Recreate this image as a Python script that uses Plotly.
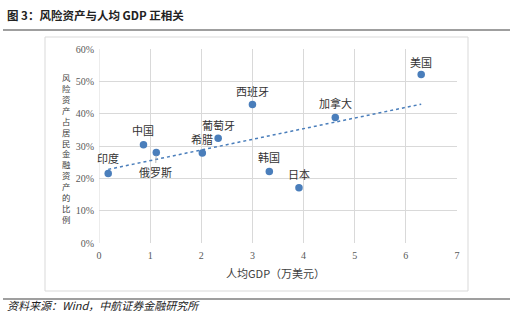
import numpy as np
import plotly.graph_objects as go

# Data: GDP per capita (10k USD) vs. share of risk assets in household financial assets
countries = ["印度", "中国", "俄罗斯", "希腊", "葡萄牙", "西班牙", "韩国", "日本", "加拿大", "美国"]
gdp_per_capita = [0.18, 0.87, 1.12, 2.02, 2.33, 3.00, 3.33, 3.91, 4.62, 6.30]
risk_asset_share = [0.215, 0.304, 0.280, 0.278, 0.324, 0.428, 0.221, 0.171, 0.388, 0.521]

x_ticks = [0, 1, 2, 3, 4, 5, 6, 7]
y_ticks = [0, 0.1, 0.2, 0.3, 0.4, 0.5, 0.6]
y_tick_text = ["0%", "10%", "20%", "30%", "40%", "50%", "60%"]

title_text = "图 3：风险资产与人均 GDP 正相关"
x_title = "人均GDP（万美元）"
y_title = "风险资产占居民金融资产的比例"
source_text = "资料来源：Wind，中航证券金融研究所"

# Label placement (pixel offsets from each point)
label_offsets = {
    "印度": (0, 15), "中国": (0, 15), "俄罗斯": (0, -20), "希腊": (0, 14),
    "葡萄牙": (0, 13), "西班牙": (0, 14), "韩国": (0, 15), "日本": (0, 14),
    "加拿大": (0, 15), "美国": (0, 13),
}

# Plot area in pixels
W_FIG, H_FIG = 510, 326
L, R, T, B = 99, 457, 49, 243
PW, PH = R - L, B - T


def px(xp):
    return (xp - L) / PW


def py(yp):
    return (B - yp) / PH


CJK = "Noto Sans CJK SC"
BLUE = "#4a7ebb"

# Linear trendline fitted to the points
slope, intercept = np.polyfit(gdp_per_capita, risk_asset_share, 1)
trend_x = np.array([min(gdp_per_capita), max(gdp_per_capita)])
trend_y = slope * trend_x + intercept

fig = go.Figure()
fig.add_trace(go.Scatter(
    x=trend_x, y=trend_y, mode="lines",
    line=dict(color=BLUE, width=1.5, dash="dot"),
    hoverinfo="skip", showlegend=False,
))
fig.add_trace(go.Scatter(
    x=gdp_per_capita, y=risk_asset_share, mode="markers",
    marker=dict(color=BLUE, size=7.5, line=dict(width=0)),
    showlegend=False,
))

annotations = []
for name, gx, gy in zip(countries, gdp_per_capita, risk_asset_share):
    dx, dy = label_offsets[name]
    if name == "俄罗斯":
        annotations.append(dict(
            x=gx, y=gy, xref="x", yref="y", text=name, showarrow=True,
            ax=dx - 1, ay=-dy, arrowhead=0, arrowwidth=0.8, arrowcolor="#a6a6a6",
            standoff=3, font=dict(family=CJK, size=11, color="#333333"),
        ))
    else:
        annotations.append(dict(
            x=gx, y=gy, xref="x", yref="y", text=name, showarrow=False,
            xshift=dx, yshift=dy, font=dict(family=CJK, size=11, color="#333333"),
        ))

# Title, axis titles and source
annotations.append(dict(
    x=px(5), y=py(15), xref="paper", yref="paper", xanchor="left", yanchor="middle",
    text="<b>" + title_text + "</b>", showarrow=False,
    font=dict(family=CJK, size=11.5, color="#222222"),
))
annotations.append(dict(
    x=px(275), y=py(273), xref="paper", yref="paper", xanchor="center", yanchor="middle",
    text=x_title, showarrow=False, font=dict(family=CJK, size=11, color="#404040"),
))
annotations.append(dict(
    x=px(5), y=py(305), xref="paper", yref="paper", xanchor="left", yanchor="middle",
    text="<i>" + source_text + "</i>", showarrow=False,
    font=dict(family=CJK, size=11, color="#222222"),
))
# Vertical stacked y-axis title, one character per line
annotations.append(dict(
    x=px(66), y=py(148), xref="paper", yref="paper", xanchor="center", yanchor="middle",
    text="<br>".join(y_title), showarrow=False, align="center",
    font=dict(family=CJK, size=8.4, color="#404040"),
))

shapes = [
    dict(type="line", xref="paper", yref="paper", x0=px(3), x1=px(510), y0=py(30), y1=py(30),
         line=dict(color="#7f7f7f", width=1.5)),
    dict(type="line", xref="paper", yref="paper", x0=px(3), x1=px(510), y0=py(299), y1=py(299),
         line=dict(color="#7f7f7f", width=1.5)),
    dict(type="rect", xref="paper", yref="paper", x0=px(45), x1=px(468), y0=py(291), y1=py(37),
         line=dict(color="#d9d9d9", width=1), layer="below"),
    # left edge of the grid
    dict(type="line", xref="x", yref="paper", x0=0, x1=0, y0=0, y1=1,
         line=dict(color="#d9d9d9", width=1), layer="below"),
]

tick_font = dict(family="Liberation Serif", size=10, color="#595959")

fig.update_layout(
    width=W_FIG, height=H_FIG,
    margin=dict(l=L, r=W_FIG - R, t=T, b=H_FIG - B, pad=0),
    paper_bgcolor="white", plot_bgcolor="white",
    annotations=annotations, shapes=shapes,
    xaxis=dict(
        range=[0, 7], tickvals=x_ticks, ticktext=[str(v) for v in x_ticks],
        showgrid=True, gridcolor="#d9d9d9", gridwidth=1, zeroline=False,
        showline=False, ticks="", tickfont=tick_font, ticklabelstandoff=5,
    ),
    yaxis=dict(
        range=[0, 0.6], tickvals=y_ticks, ticktext=y_tick_text,
        showgrid=True, gridcolor="#d9d9d9", gridwidth=1, zeroline=False,
        showline=False, ticks="", tickfont=tick_font, ticklabelstandoff=4,
    ),
)

fig.write_html("out.html")
